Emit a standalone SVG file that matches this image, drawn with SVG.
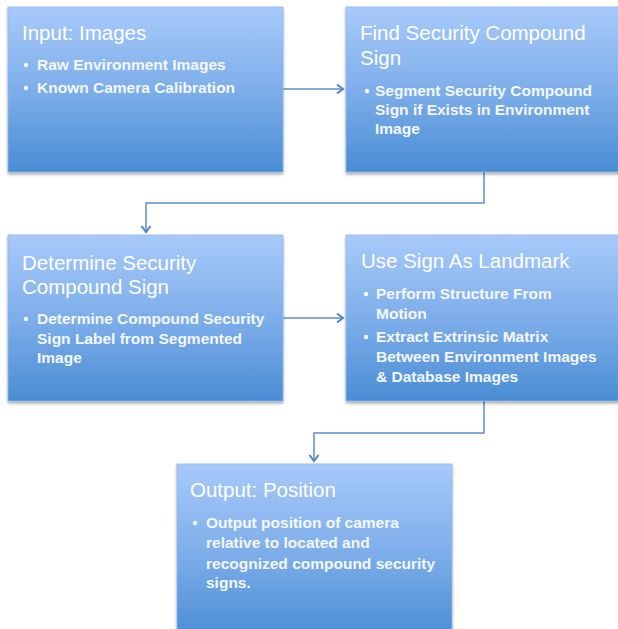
<svg xmlns="http://www.w3.org/2000/svg" width="618" height="629" viewBox="0 0 618 629">
<defs>
<linearGradient id="g" x1="0" y1="0" x2="0" y2="1">
<stop offset="0" stop-color="#a8cafa"/>
<stop offset="0.5" stop-color="#7eaeea"/>
<stop offset="1" stop-color="#4a8dd4"/>
</linearGradient>
<filter id="sh" x="-5%" y="-5%" width="112%" height="115%">
<feGaussianBlur in="SourceAlpha" stdDeviation="1.5"/>
<feOffset dx="0" dy="2" result="b"/>
<feComponentTransfer><feFuncA type="linear" slope="0.35"/></feComponentTransfer>
<feMerge><feMergeNode/><feMergeNode in="SourceGraphic"/></feMerge>
</filter>
<marker id="ah" markerWidth="12" markerHeight="12" refX="9" refY="6" orient="auto" markerUnits="userSpaceOnUse">
<polyline points="3,1.5 9,6 3,10.5" fill="none" stroke="#4f86c6" stroke-width="2"/>
</marker>
</defs>
<style>
.box{fill:url(#g);stroke:#8fb6e8;stroke-width:0.8;filter:url(#sh)}
.t{font-family:"Liberation Sans",Arial,sans-serif;font-size:20.5px;fill:#ffffff}
.b{font-family:"Liberation Sans",Arial,sans-serif;font-size:15.5px;font-weight:bold;fill:#f4f8fe}
.d{fill:#f4f8fe}
.c{fill:none;stroke:#5b8fcb;stroke-width:1.5}
</style>
<g id="connectors">
<path class="c" d="M283,89 H343" marker-end="url(#ah)"/>
<path class="c" d="M484,172 V203 H146 V232" marker-end="url(#ah)"/>
<path class="c" d="M283,318 H343" marker-end="url(#ah)"/>
<path class="c" d="M484,401 V433 H314 V461" marker-end="url(#ah)"/>
</g>
<g id="input">
<rect class="box" x="8" y="7" width="275" height="165"/>
<text class="t" x="22" y="40">Input: Images</text>
<circle class="d" cx="26" cy="65" r="2.2"/>
<text class="b" x="37" y="70">Raw Environment Images</text>
<circle class="d" cx="26" cy="88" r="2.2"/>
<text class="b" x="37" y="93">Known Camera Calibration</text>
</g>
<g id="find">
<rect class="box" x="346" y="7" width="280" height="165"/>
<text class="t" x="360" y="40">Find Security Compound</text>
<text class="t" x="360" y="65">Sign</text>
<circle class="d" cx="367" cy="91" r="2.2"/>
<text class="b" x="375" y="96">Segment Security Compound</text>
<text class="b" x="375" y="115">Sign if Exists in Environment</text>
<text class="b" x="375" y="134">Image</text>
</g>
<g id="determine">
<rect class="box" x="8" y="235" width="275" height="166"/>
<text class="t" x="22" y="270">Determine Security</text>
<text class="t" x="22" y="294">Compound Sign</text>
<circle class="d" cx="26" cy="319" r="2.2"/>
<text class="b" x="37" y="324">Determine Compound Security</text>
<text class="b" x="37" y="344">Sign Label from Segmented</text>
<text class="b" x="37" y="363">Image</text>
</g>
<g id="landmark">
<rect class="box" x="346" y="235" width="280" height="166"/>
<text class="t" x="361" y="268">Use Sign As Landmark</text>
<circle class="d" cx="366" cy="294" r="2.2"/>
<text class="b" x="376" y="299">Perform Structure From</text>
<text class="b" x="376" y="319">Motion</text>
<circle class="d" cx="366" cy="337" r="2.2"/>
<text class="b" x="376" y="342">Extract Extrinsic Matrix</text>
<text class="b" x="376" y="362">Between Environment Images</text>
<text class="b" x="376" y="382">&amp; Database Images</text>
</g>
<g id="output">
<rect class="box" x="177" y="464" width="275" height="175"/>
<text class="t" x="190" y="497">Output: Position</text>
<circle class="d" cx="195" cy="523" r="2.2"/>
<text class="b" x="206" y="528">Output position of camera</text>
<text class="b" x="206" y="548">relative to located and</text>
<text class="b" x="206" y="569">recognized compound security</text>
<text class="b" x="206" y="588">signs.</text>
</g>
</svg>
